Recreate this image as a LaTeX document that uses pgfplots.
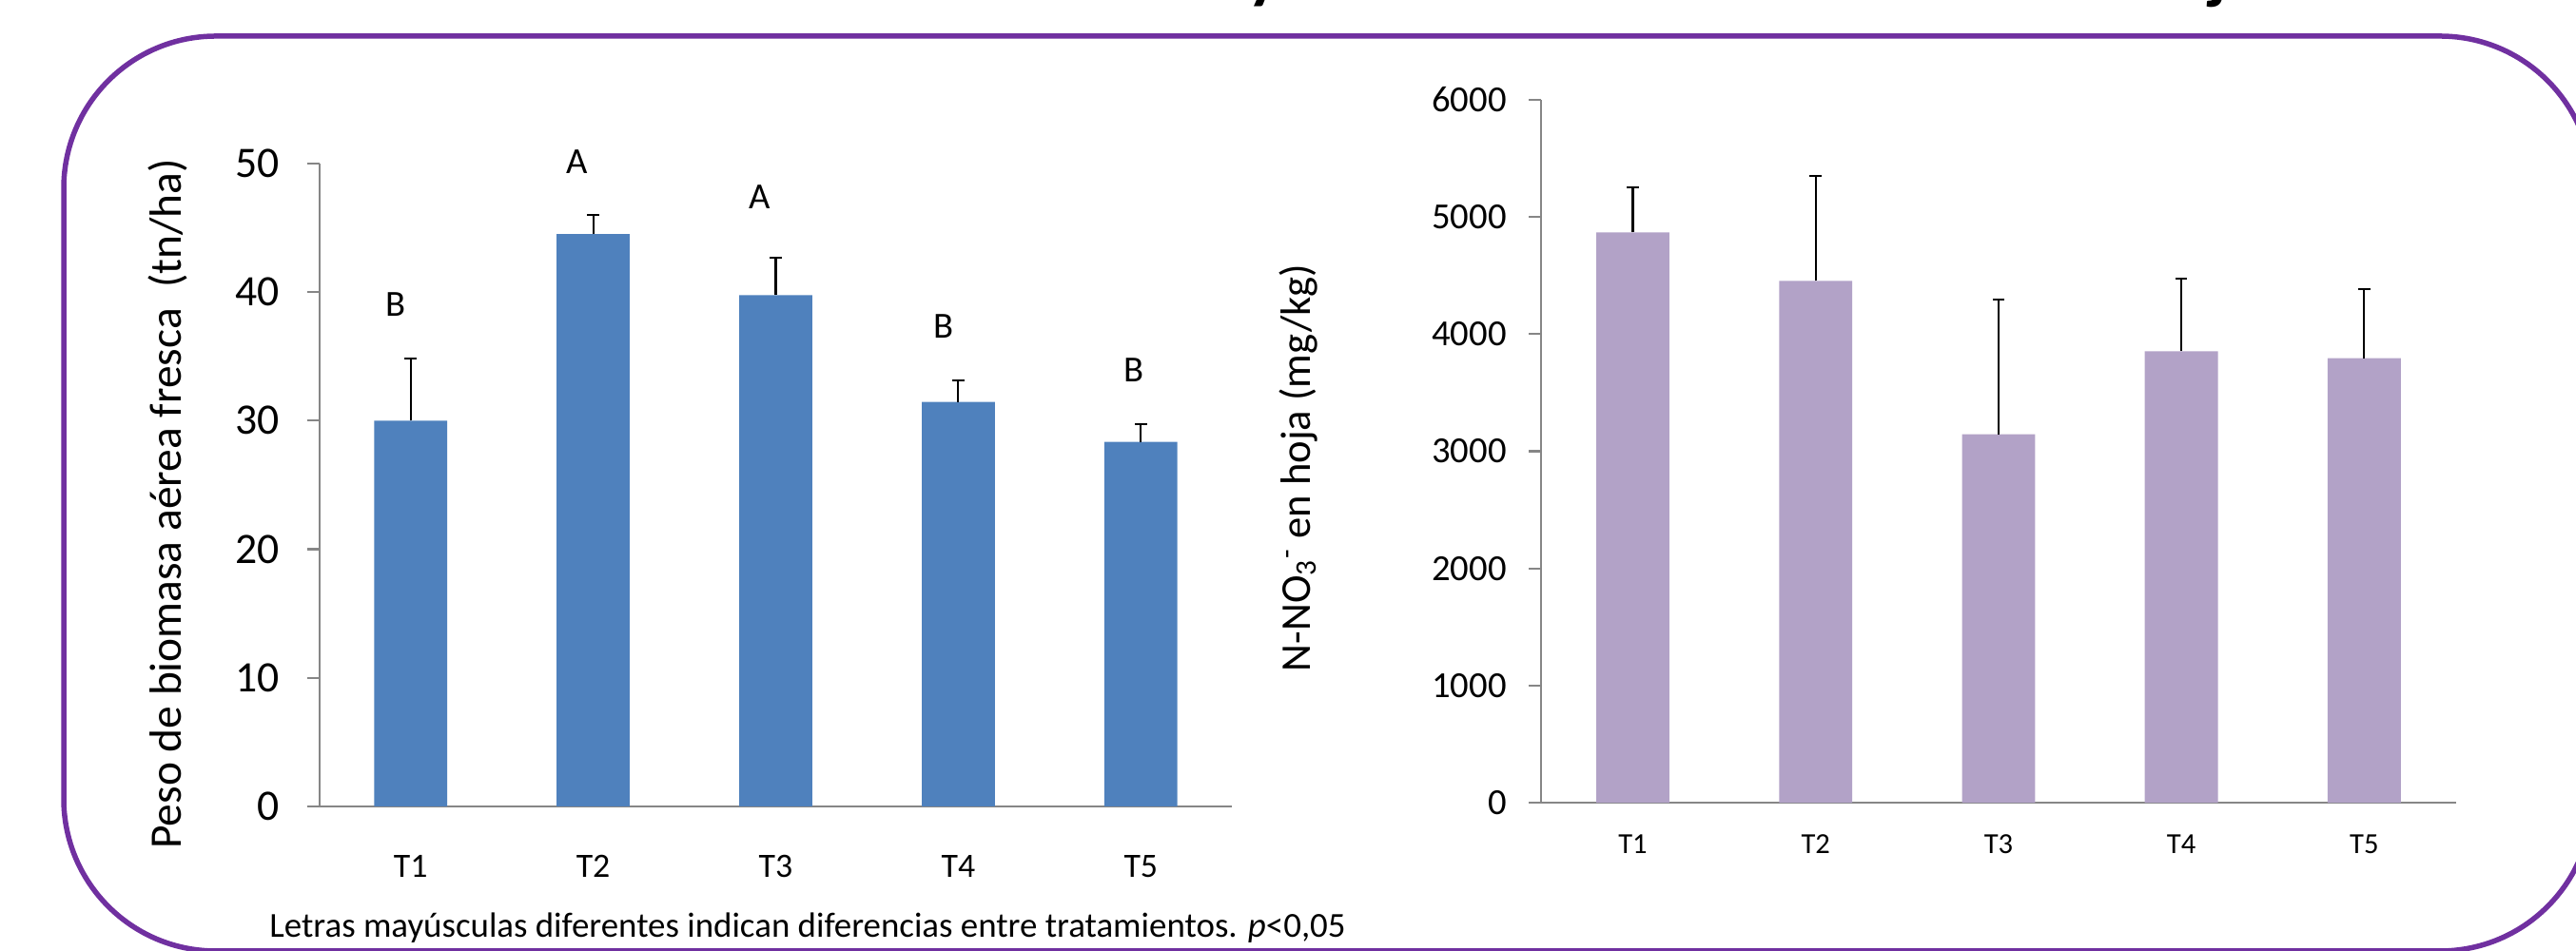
\documentclass[border=0pt]{standalone}
\usepackage{pgfplots}
\pgfplotsset{compat=1.18}
\usepackage{fontspec}
\setmainfont{Carlito}
\definecolor{barblue}{HTML}{4F81BD}
\definecolor{barlav}{HTML}{B2A2C7}
\definecolor{axgray}{HTML}{868686}
\definecolor{framepurple}{HTML}{7030A0}

\pgfplotsset{
  mybar/.style={
    scale only axis, enlargelimits=false, xmin=-0.5, xmax=4.5, ymin=0,
    clip=false,
    axis x line*=bottom, axis y line*=left,
    axis line style={axgray, line width=0.6pt, -},
    xtick={0,...,4}, xticklabels={T1,T2,T3,T4,T5},
    xtick style={draw=none},
    ytick style={axgray, line width=0.6pt},
    tick align=outside, major tick length=0.13cm,
    /pgf/number format/assume math mode=true,
    /pgf/number format/1000 sep={},
    ybar, bar width=0.4,
    yticklabel style={inner sep=0pt, anchor=east},
    xticklabel style={inner sep=0pt, anchor=base},
  },
  myerr/.style={
    error bars/.cd, y dir=plus, y explicit,
    error bar style={black, line width=0.6pt},
    error mark options={black, rotate=90, mark size=0.063cm, line width=0.6pt},
  }
}

\begin{document}
\begin{tikzpicture}
% frame
\draw[framepurple, line width=0.055cm, rounded corners=1.6cm] (0.67,9.62) rectangle (27.25,0.0);
% title (mostly cut off at the top)
\node[anchor=base, inner sep=0pt, font=\bfseries\fontsize{20.8}{24}\selectfont] at (13.89,10.04)
  {Producción de biomasa aérea y concentración de nitratos en hoja};

% left chart
\begin{axis}[mybar, at={(3.357cm,1.52cm)}, anchor=south west,
  width=9.596cm, height=6.762cm, ymax=50, ytick={0,10,...,50},
  yticklabel style={font=\fontsize{13}{15}\selectfont, xshift=-0.28cm},
  xticklabel style={font=\fontsize{10.2}{12}\selectfont, yshift=-0.614cm},
]
\addplot[fill=barblue, draw=none, myerr] coordinates {
  (0,30.0) +- (0,4.8)
  (1,44.5) +- (0,1.5)
  (2,39.75) +- (0,2.9)
  (3,31.45) +- (0,1.65)
  (4,28.34) +- (0,1.4)
};
\node[font=\fontsize{11}{13}\selectfont] at (axis cs:-0.08,39.05) {B};
\node[font=\fontsize{11}{13}\selectfont] at (axis cs:0.91,50.1) {A};
\node[font=\fontsize{11}{13}\selectfont] at (axis cs:1.91,47.4) {A};
\node[font=\fontsize{11}{13}\selectfont] at (axis cs:2.92,37.35) {B};
\node[font=\fontsize{11}{13}\selectfont] at (axis cs:3.96,33.9) {B};
\end{axis}

% right chart
\begin{axis}[mybar, at={(16.204cm,1.558cm)}, anchor=south west,
  width=9.611cm, height=7.394cm, ymax=6000, ytick={0,1000,...,6000},
  yticklabel style={font=\fontsize{11}{13}\selectfont, xshift=-0.23cm},
  xticklabel style={font=\fontsize{8.7}{10}\selectfont, yshift=-0.40cm},
]
\addplot[fill=barlav, draw=none, myerr] coordinates {
  (0,4868) +- (0,387)
  (1,4453) +- (0,895)
  (2,3145) +- (0,1148)
  (3,3852) +- (0,621)
  (4,3795) +- (0,590)
};
\end{axis}

% axis titles
\node[rotate=90, font=\fontsize{13.5}{16}\selectfont] at (1.76,4.70) {Peso de biomasa aérea fresca\ \ (tn/ha)};
\node[rotate=90, font=\fontsize{12.7}{15}\selectfont] at (13.65,5.08) {N-NO\textsubscript{3}\textsuperscript{-} en hoja (mg/kg)};
% footnote
\node[anchor=base, inner sep=0pt, font=\fontsize{10.5}{12}\selectfont] at (8.49,0.14)
  {Letras mayúsculas diferentes indican diferencias entre tratamientos. \textit{p}<0,05};

\pgfresetboundingbox
\useasboundingbox (0,0) rectangle (27.08,10);
\end{tikzpicture}
\end{document}
